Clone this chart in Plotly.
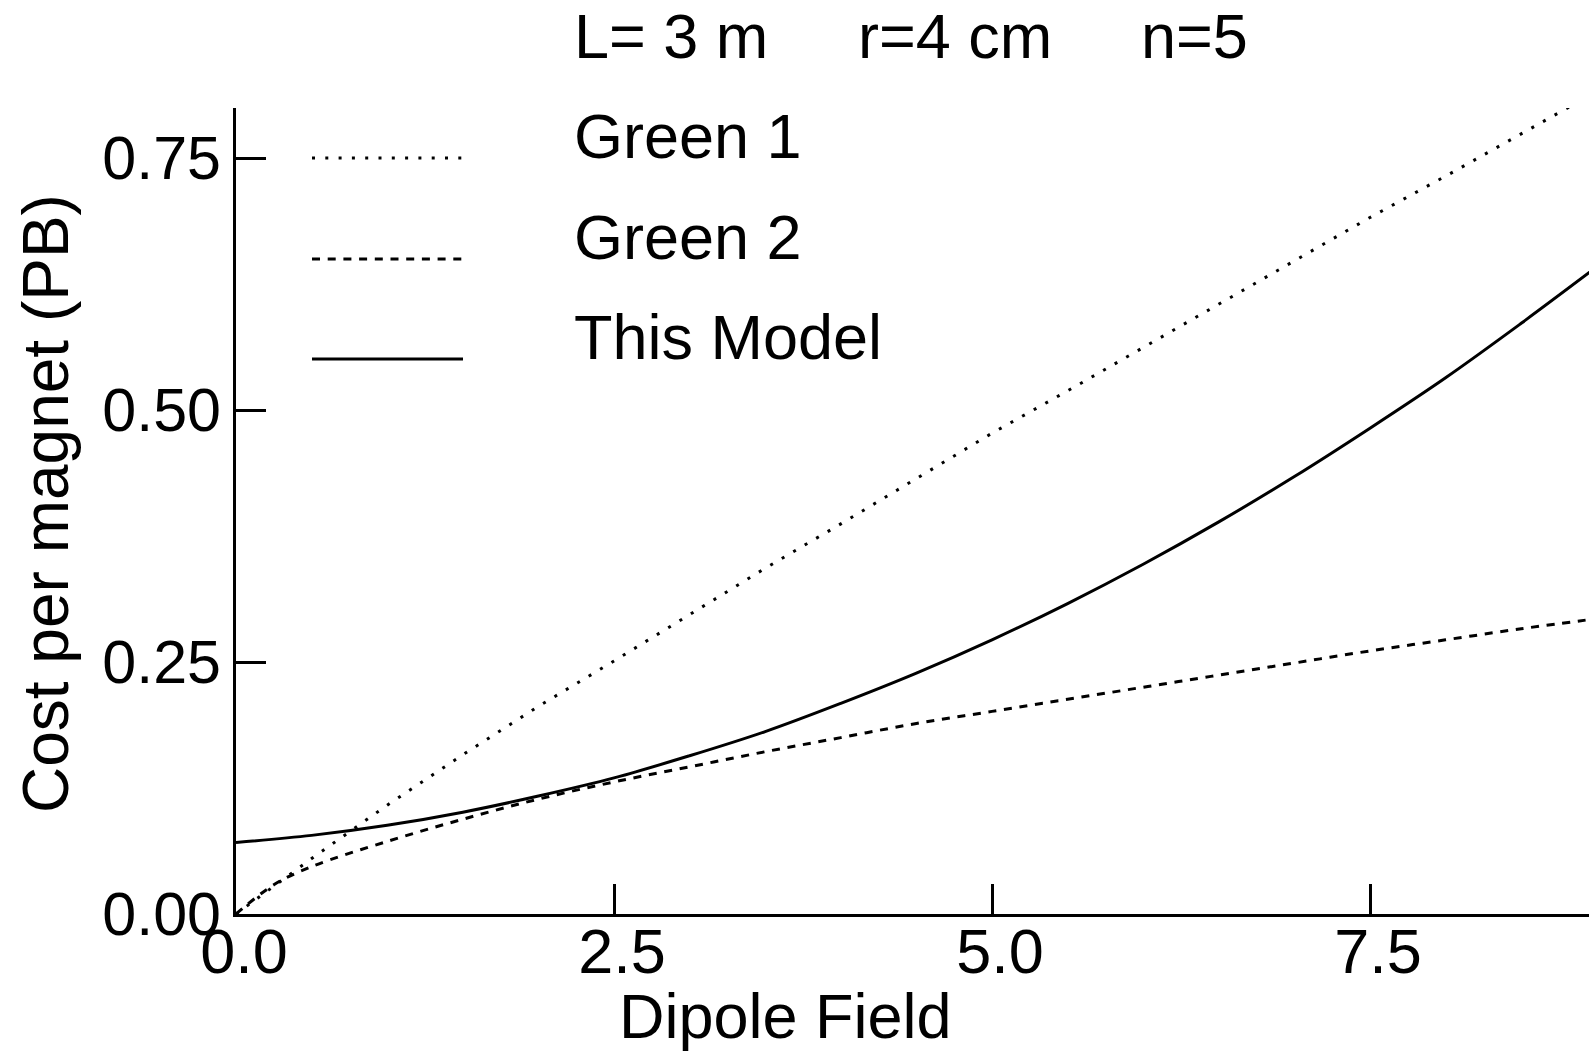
import plotly.graph_objects as go

# ---- data ----
x_field = [0, 0.5, 1, 1.5, 2, 2.5, 3, 3.5, 4, 4.5, 5, 5.5, 6, 6.5, 7, 7.5, 8, 8.5, 9]
green1 = [0, 0.055, 0.108, 0.158, 0.206, 0.251, 0.297, 0.343, 0.387, 0.432,
          0.477, 0.519, 0.562, 0.605, 0.648, 0.691, 0.732, 0.774, 0.816]
x_green2 = [0, 0.25, 0.5, 1, 1.5, 2, 2.5, 3, 3.5, 4, 4.5, 5, 5.5, 6, 6.5, 7, 7.5, 8, 8.5, 9]
green2 = [0, 0.029, 0.047, 0.072, 0.094, 0.114, 0.131, 0.146, 0.161, 0.175, 0.189,
          0.201, 0.213, 0.225, 0.237, 0.249, 0.261, 0.272, 0.283, 0.293]
this_model = [0.071, 0.078, 0.088, 0.101, 0.117, 0.135, 0.157, 0.181, 0.209, 0.239,
              0.272, 0.308, 0.347, 0.389, 0.434, 0.482, 0.532, 0.586, 0.642]

series_names = ["Green 1", "Green 2", "This Model"]
x_ticks = [0, 2.5, 5.0, 7.5]
y_ticks = [0, 0.25, 0.5, 0.75]
title_parts = ["L= 3 m", "r=4 cm", "n=5"]
x_title = "Dipole Field"
y_title = "Cost per magnet (PB)"

# ---- layout geometry ----
W, H = 1589, 1054
ML, MR, MT, MB = 236, 0, 108, 140
PW, PH = W - ML - MR, H - MT - MB

def px(xp):
    return (xp - ML) / PW

def py(yp):
    return (H - MB - yp) / PH

FONT = "Liberation Sans, Arial, sans-serif"
FS = 63
LW = 3
dot_dash = "3px,10.3px"
dash_dash = "8px,7.7px"

fig = go.Figure()
fig.add_trace(go.Scatter(x=x_field, y=green1, mode="lines", name=series_names[0],
                         line=dict(color="black", width=LW, dash=dot_dash)))
fig.add_trace(go.Scatter(x=x_green2, y=green2, mode="lines", name=series_names[1],
                         line=dict(color="black", width=LW, dash=dash_dash, shape="spline")))
fig.add_trace(go.Scatter(x=x_field, y=this_model, mode="lines", name=series_names[2],
                         line=dict(color="black", width=LW, shape="spline")))

# manual legend
leg_y = [158, 259, 359]
leg_txt_y = [136, 237, 337]
dashes = [dot_dash, dash_dash, "solid"]
shapes = []
annotations = []
for name, ly, ty, d in zip(series_names, leg_y, leg_txt_y, dashes):
    shapes.append(dict(type="line", xref="paper", yref="paper",
                       x0=px(312), x1=px(463), y0=py(ly), y1=py(ly),
                       line=dict(color="black", width=LW, dash=d)))
    annotations.append(dict(text=name, xref="paper", yref="paper", x=px(572), y=py(ty),
                            xanchor="left", yanchor="middle", showarrow=False,
                            font=dict(family=FONT, size=FS, color="black")))

# title parts
for t, xl in zip(title_parts, [572, 856, 1139]):
    annotations.append(dict(text=t, xref="paper", yref="paper", x=px(xl), y=py(36),
                            xanchor="left", yanchor="middle", showarrow=False,
                            font=dict(family=FONT, size=FS, color="black")))

# axis titles
annotations.append(dict(text=x_title, xref="paper", yref="paper", x=px(785), y=py(1016),
                        xanchor="center", yanchor="middle", showarrow=False,
                        font=dict(family=FONT, size=FS, color="black")))
annotations.append(dict(text=y_title, xref="paper", yref="paper", x=px(46), y=py(504),
                        xanchor="center", yanchor="middle", showarrow=False, textangle=-90,
                        font=dict(family=FONT, size=64, color="black")))

fig.update_layout(
    width=W, height=H,
    margin=dict(l=ML, r=MR, t=MT, b=MB, pad=0),
    paper_bgcolor="white", plot_bgcolor="white",
    showlegend=False,
    shapes=shapes, annotations=annotations,
    font=dict(family=FONT, size=FS, color="black"),
)
fig.update_xaxes(range=[0, PW / 151.2], tickvals=x_ticks, tickformat=".1f",
                 ticks="inside", ticklen=30, tickwidth=2.5, tickcolor="black",
                 ticklabelstandoff=-20, ticklabelshift=8,
                 showline=True, linecolor="black", linewidth=3,
                 showgrid=False, zeroline=False, mirror=False,
                 tickfont=dict(family=FONT, size=FS, color="black"))
fig.update_yaxes(range=[0, PH / 1008], tickvals=y_ticks, tickformat=".2f",
                 ticks="inside", ticklen=30, tickwidth=2.5, tickcolor="black",
                 showline=True, linecolor="black", linewidth=2.5,
                 showgrid=False, zeroline=False, mirror=False,
                 tickfont=dict(family=FONT, size=61, color="black"))

fig.write_html("out.html")
